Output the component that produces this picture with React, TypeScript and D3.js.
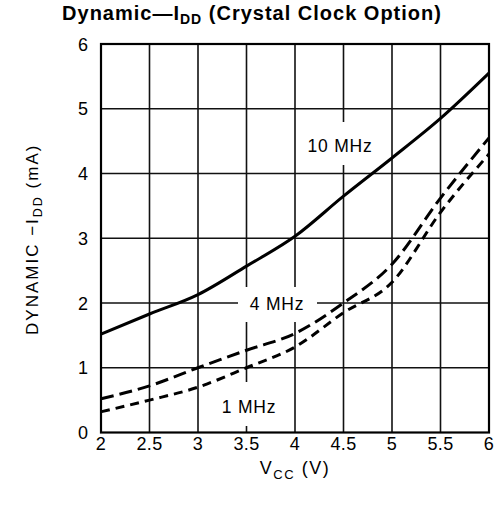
import React from "react";
import * as d3 from "d3";

const xTicks = [2, 2.5, 3, 3.5, 4, 4.5, 5, 5.5, 6];
const xTickLabels = ["2", "2.5", "3", "3.5", "4", "4.5", "5", "5.5", "6"];
const yTicks = [0, 1, 2, 3, 4, 5, 6];
const yTickLabels = ["0", "1", "2", "3", "4", "5", "6"];

const vcc = [2, 2.5, 3, 3.5, 4, 4.5, 5, 5.5, 6];
const idd10MHz = [1.52, 1.83, 2.13, 2.57, 3.03, 3.65, 4.24, 4.85, 5.55];
const idd4MHz = [0.52, 0.72, 1.0, 1.27, 1.53, 2.0, 2.6, 3.62, 4.55];
const idd1MHz = [0.32, 0.5, 0.7, 1.0, 1.32, 1.85, 2.32, 3.4, 4.3];

const W = 504;
const H = 524;
const M = { left: 101, right: 489, top: 44, bottom: 432.5 };

const FONT = "'Liberation Sans', Arial, sans-serif";

export default function App() {
  const x = d3.scaleLinear().domain([2, 6]).range([M.left, M.right]);
  const y = d3.scaleLinear().domain([0, 6]).range([M.bottom, M.top]);

  const line = d3
    .line<[number, number]>()
    .x((d) => x(d[0]))
    .y((d) => y(d[1]))
    .curve(d3.curveMonotoneX);

  const s10 = vcc.map((v, i) => [v, idd10MHz[i]] as [number, number]);
  const s4 = vcc.map((v, i) => [v, idd4MHz[i]] as [number, number]);
  const s1 = vcc.map((v, i) => [v, idd1MHz[i]] as [number, number]);

  const labelStyle = { fontFamily: FONT, fontSize: 17.5, letterSpacing: 0.8, fill: "#000" } as const;

  return (
    <svg
      width={W}
      height={H}
      viewBox={`0 0 ${W} ${H}`}
      style={{ position: "absolute", left: 0, top: 0, background: "#fff" }}
    >
      <rect x={0} y={0} width={W} height={H} fill="#fff" />
      {/* title */}
      <text x={252} y={20} textAnchor="middle" style={{ fontFamily: FONT, fontSize: 20, fontWeight: 700, letterSpacing: 1 }}>
        Dynamic—I
        <tspan fontSize={14} dy={4}>DD</tspan>
        <tspan dy={-4}> (Crystal Clock Option)</tspan>
      </text>

      {/* grid */}
      {xTicks.slice(1, -1).map((t) => (
        <line key={"gx" + t} x1={x(t)} x2={x(t)} y1={y(6)} y2={y(0)} stroke="#111" strokeWidth={1.6} />
      ))}
      {yTicks.slice(1, -1).map((t) => (
        <line key={"gy" + t} x1={x(2)} x2={x(6)} y1={y(t)} y2={y(t)} stroke="#111" strokeWidth={1.6} />
      ))}

      {/* label knock-outs */}
      <rect x={300} y={122} width={78} height={43} fill="#fff" />
      <rect x={238} y={287} width={79} height={35} fill="#fff" />
      <rect x={218} y={382} width={62} height={44} fill="#fff" />

      {/* curves */}
      <path d={line(s10) || ""} fill="none" stroke="#000" strokeWidth={3} />
      <path d={line(s4) || ""} fill="none" stroke="#000" strokeWidth={3} strokeDasharray="13 6" />
      <path d={line(s1) || ""} fill="none" stroke="#000" strokeWidth={3} strokeDasharray="9 6" />

      {/* frame */}
      <rect
        x={M.left}
        y={M.top}
        width={M.right - M.left}
        height={M.bottom - M.top}
        fill="none"
        stroke="#000"
        strokeWidth={2.2}
      />

      {/* curve labels */}
      <text x={340} y={152} textAnchor="middle" style={labelStyle}>10 MHz</text>
      <text x={277} y={310} textAnchor="middle" style={labelStyle}>4 MHz</text>
      <text x={249} y={413} textAnchor="middle" style={labelStyle}>1 MHz</text>

      {/* y ticks */}
      {yTicks.map((t, i) => (
        <text key={"yt" + t} x={88} y={y(t) + 6.5} textAnchor="end" style={{ fontFamily: FONT, fontSize: 18 }}>
          {yTickLabels[i]}
        </text>
      ))}
      {/* x ticks */}
      {xTicks.map((t, i) => (
        <text key={"xt" + t} x={x(t)} y={450} textAnchor="middle" style={{ fontFamily: FONT, fontSize: 18, letterSpacing: 0.3 }}>
          {xTickLabels[i]}
        </text>
      ))}

      {/* axis titles */}
      <text
        transform={`translate(38, ${(M.top + M.bottom) / 2 + 1}) rotate(-90)`}
        textAnchor="middle"
        style={{ fontFamily: FONT, fontSize: 17, letterSpacing: 2 }}
      >
        DYNAMIC −I
        <tspan fontSize={12.5} dy={4}>DD</tspan>
        <tspan dy={-4}>  (mA)</tspan>
      </text>
      <text x={295} y={474} textAnchor="middle" style={{ fontFamily: FONT, fontSize: 18, letterSpacing: 1.5 }}>
        V
        <tspan fontSize={13} dy={5}>CC</tspan>
        <tspan dy={-5}>  (V)</tspan>
      </text>
    </svg>
  );
}
